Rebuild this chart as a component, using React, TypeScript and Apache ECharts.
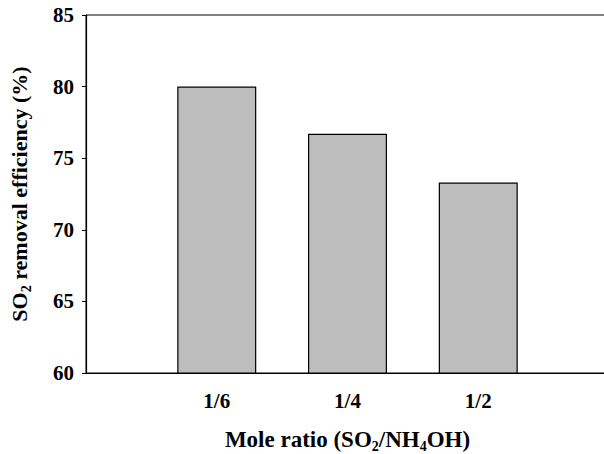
import React, { useEffect, useRef } from "react";
import * as echarts from "echarts";

const categories = ["", "1/6", "1/4", "1/2", ""];
const efficiency = [null, 80, 76.7, 73.3, null];
const yTicks = { min: 60, max: 85, interval: 5 };

const FONT = "'Liberation Serif', 'Times New Roman', serif";

const makeRich = (size: number, sub: number) => ({
  m: { fontFamily: FONT, fontWeight: "bold", fontSize: size, color: "#000", lineHeight: 28 },
  s: { fontFamily: FONT, fontWeight: "bold", fontSize: sub, color: "#000", lineHeight: 14, verticalAlign: "bottom" },
});

export default function App() {
  const ref = useRef<HTMLDivElement>(null);
  useEffect(() => {
    if (!ref.current) return;
    const chart = echarts.init(ref.current, undefined, { renderer: "svg" });
    chart.setOption({
      animation: false,
      backgroundColor: "#ffffff",
      grid: {
        left: 86,
        top: 15,
        right: -5,
        bottom: 81,
        show: true,
        borderColor: "#000",
        borderWidth: 1,
        backgroundColor: "transparent",
        outerBoundsMode: "none",
        containLabel: false,
      },
      xAxis: {
        type: "category",
        data: categories,
        boundaryGap: false,
        axisLine: { lineStyle: { color: "#000", width: 1.2 } },
        axisTick: { show: false },
        splitLine: { show: false },
        axisLabel: {
          color: "#000",
          fontFamily: FONT,
          fontWeight: "bold",
          fontSize: 21,
          margin: 17,
          interval: 0,
        },
        name: "{m|Mole ratio (SO}{s|2}{m|/NH}{s|4}{m|OH)}",
        nameLocation: "middle",
        nameGap: 52,
        nameTextStyle: { rich: makeRich(23, 14) },
      },
      yAxis: {
        type: "value",
        min: yTicks.min,
        max: yTicks.max,
        interval: yTicks.interval,
        axisLine: { show: true, lineStyle: { color: "#000", width: 1.2 } },
        axisTick: { show: true, length: 4, lineStyle: { color: "#000" } },
        splitLine: { show: false },
        axisLabel: {
          color: "#000",
          fontFamily: FONT,
          fontWeight: "bold",
          fontSize: 21,
          margin: 12,
        },
        name: "{m|SO}{s|2}{m| removal efficiency (%)}",
        nameLocation: "middle",
        nameGap: 53,
        nameTextStyle: { rich: makeRich(22, 14) },
      },
      series: [
        {
          type: "bar",
          data: efficiency,
          barWidth: 79,
          itemStyle: { color: "#bdbdbd", borderColor: "#000", borderWidth: 1.2 },
        },
      ],
    });
    return () => chart.dispose();
  }, []);
  return <div ref={ref} style={{ width: 604, height: 454, position: "absolute", left: 0, top: 0 }} />;
}
